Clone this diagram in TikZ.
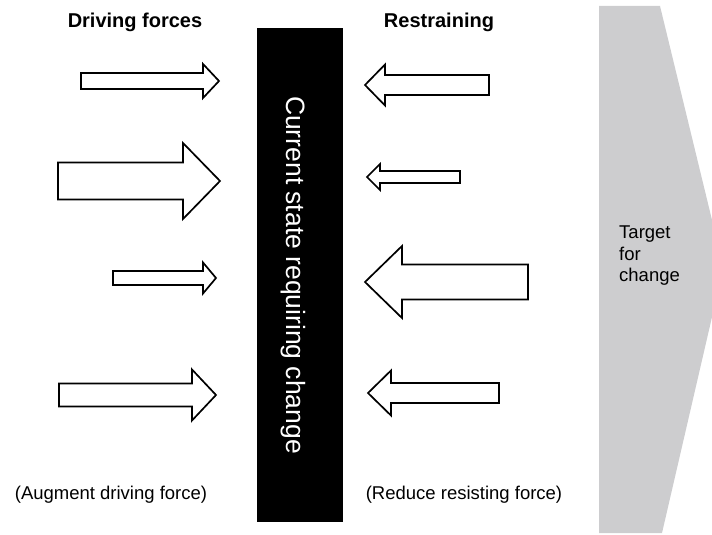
\documentclass[tikz,border=0pt]{standalone}
\usepackage{fontspec}
\setmainfont{Liberation Sans}
\definecolor{targetgrey}{RGB}{205,205,207}
\newcommand{\blockarrow}[6]{% tail x, head-base x, tip x, centre y, shaft half, head half
  \draw[forcearrow] (#1,#4-#5) -- (#2,#4-#5) -- (#2,#4-#6) -- (#3,#4) -- (#2,#4+#6) -- (#2,#4+#5) -- (#1,#4+#5) -- cycle;}
\begin{document}
\begin{tikzpicture}[x=1pt,y=-1pt,
  forcearrow/.style={draw=black, fill=white, line width=1.7pt, line join=miter},
  title/.style={font=\bfseries\fontsize{20}{24}\selectfont, inner sep=0pt},
  note/.style={font=\fontsize{18.5}{21}\selectfont, inner sep=0pt}]
\useasboundingbox (0,0) rectangle (712,535);
% target shape
\fill[targetgrey] (599,6) -- (660,6) -- (712,220) -- (712,317) -- (662,533) -- (599,533) -- cycle;
\node[note, anchor=north west, align=left, font=\fontsize{18.5}{21.5}\selectfont] (target) at (619,226) {Target\\for\\change};
% current state bar
\fill[black] (257,28) rectangle (343,522);
\node[rotate=-90, text=white, font=\fontsize{26.5}{30}\selectfont, inner sep=0pt] (current) at (293,275) {Current state requiring change};
% titles
\node[title] (driving) at (135,22) {Driving forces};
\node[title] (restraining) at (439,22) {Restraining};
% notes
\node[note] (augment) at (111,495) {(Augment driving force)};
\node[note] (reduce) at (464,495) {(Reduce resisting force)};
% driving arrows
\blockarrow{81}{203}{219}{81}{8}{17}
\blockarrow{58}{183}{220}{181}{18.5}{38}
\blockarrow{113}{203}{216}{278}{7}{15.5}
\blockarrow{59}{192}{216}{395}{11.5}{25.5}
% restraining arrows
\blockarrow{489}{385}{365}{85}{10}{20.5}
\blockarrow{460}{380}{367}{177}{6}{13}
\blockarrow{528}{402}{365}{282}{17.5}{36}
\blockarrow{499}{391}{368}{393}{10}{22.5}
\end{tikzpicture}
\end{document}
